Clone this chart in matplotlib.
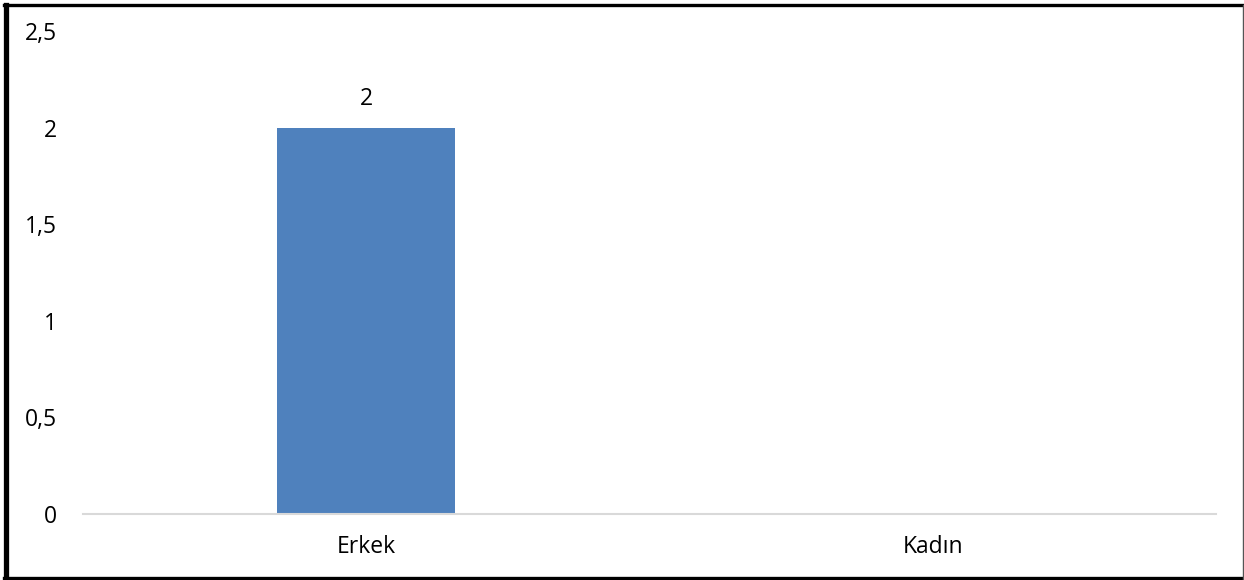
import matplotlib.pyplot as plt
from matplotlib.lines import Line2D
from matplotlib.ticker import FuncFormatter

# data
categories = ['Erkek', 'Kadın']
values = [2, 0]
yticks = [0, 0.5, 1, 1.5, 2, 2.5]

plt.rcParams['font.family'] = ['Open Sans', 'DejaVu Sans']

fig = plt.figure(figsize=(12.44, 5.8), dpi=100)
ax = fig.add_axes([0.0667, 0.1138, 0.9108, 0.8319])

x = list(range(len(categories)))
bars = ax.bar(x, values, width=0.314, color='#4F81BD', zorder=2)

# label only the non-zero bar like the original
for b, v in zip(bars, values):
    if v:
        ax.annotate(str(v), (b.get_x() + b.get_width() / 2, v),
                    xytext=(0, 12), textcoords='offset points',
                    ha='center', va='bottom', fontsize=16.5)

ax.set_xlim(-0.5, len(categories) - 0.5)
ax.set_ylim(0, 2.5)
ax.set_yticks(yticks)
ax.yaxis.set_major_formatter(FuncFormatter(lambda v, p: ('%g' % v).replace('.', ',')))
ax.set_xticks(x)
ax.set_xticklabels(categories)
ax.tick_params(axis='y', length=0, pad=19, labelsize=16.5)
ax.tick_params(axis='x', length=0, pad=15, labelsize=16.5)

for s in ['top', 'right', 'left']:
    ax.spines[s].set_visible(False)
ax.spines['bottom'].set_color('#d9d9d9')
ax.spines['bottom'].set_linewidth(1.5)

# outer frame of the picture
fig.add_artist(Line2D([0.0052, 0.0052], [0.003, 0.992], color='black', lw=3.8, transform=fig.transFigure))
fig.add_artist(Line2D([0.003, 1], [0.9915, 0.9915], color='black', lw=2.4, transform=fig.transFigure))
fig.add_artist(Line2D([0.003, 1], [0.0035, 0.0035], color='black', lw=2.4, transform=fig.transFigure))
fig.add_artist(Line2D([0.9992, 0.9992], [0, 0.992], color='#555555', lw=1, transform=fig.transFigure))

fig.savefig('out.png', dpi=100)
